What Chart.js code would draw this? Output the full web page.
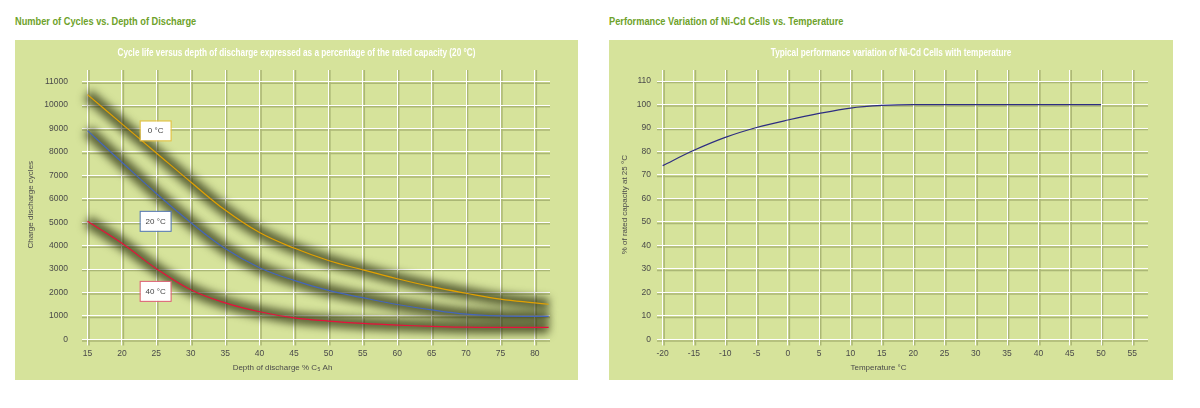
<!DOCTYPE html>
<html>
<head>
<meta charset="utf-8">
<script src="https://cdn.jsdelivr.net/npm/chart.js@4.4.0/dist/chart.umd.min.js"></script>
<style>
  body { margin: 0; width: 1200px; height: 408px; background: #fff; position: relative;
         font-family: "Liberation Sans", Arial, sans-serif; }
  .head { position: absolute; top: 15px; font-size: 11px; font-weight: bold; color: #6ea22a;
          white-space: nowrap; transform: scaleX(0.84); transform-origin: left top; }
  .panel { position: absolute; top: 40px; height: 340px; background: #d6e39b; }
  .ptitle { position: absolute; top: 7px; left: 0; right: 0; text-align: center; line-height: 12px;
            font-size: 10px; font-weight: bold; color: #fff; white-space: nowrap;
            transform: scaleX(0.82); transform-origin: center top; }
</style>
</head>
<body>
<div class="head" style="left:15px">Number of Cycles vs. Depth of Discharge</div>
<div class="head" style="left:609px">Performance Variation of Ni-Cd Cells vs. Temperature</div>
<div class="panel" style="left:15px;width:563px">
  <canvas id="cycles"></canvas>
  <div class="ptitle">Cycle life versus depth of discharge expressed as a percentage of the rated capacity (20 °C)</div>
</div>
<div class="panel" style="left:609px;width:564px">
  <canvas id="temp"></canvas>
  <div class="ptitle">Typical performance variation of Ni-Cd Cells with temperature</div>
</div>
<script>
// left chart data
var depth = [15, 20, 25, 30, 35, 40, 45, 50, 55, 60, 65, 70, 75, 80, 82];
var cycles0 = [10450, 9200, 7960, 6720, 5520, 4560, 3900, 3370, 2970, 2590, 2250, 1970, 1720, 1560, 1500];
var cycles20 = [8910, 7560, 6230, 4990, 3880, 3060, 2520, 2090, 1780, 1490, 1260, 1080, 1000, 980, 980];
var cycles40 = [5040, 4100, 3020, 2120, 1560, 1180, 920, 780, 680, 610, 560, 520, 510, 510, 510];
var curveNames = ['0 °C', '20 °C', '40 °C'];
var depthTicks = [15, 20, 25, 30, 35, 40, 45, 50, 55, 60, 65, 70, 75, 80];
var cycleTicks = [0, 1000, 2000, 3000, 4000, 5000, 6000, 7000, 8000, 9000, 10000, 11000];

// right chart data
var temps = [-20, -15, -10, -5, 0, 5, 10, 15, 20, 25, 30, 35, 40, 45, 50];
var capacity = [74, 80.5, 86, 90.2, 93.4, 96.2, 98.5, 99.6, 100, 100, 100, 100, 100, 100, 100];
var tempTicks = [-20, -15, -10, -5, 0, 5, 10, 15, 20, 25, 30, 35, 40, 45, 50, 55];
var capTicks = [0, 10, 20, 30, 40, 50, 60, 70, 80, 90, 100, 110];

Chart.defaults.font.family = '"Liberation Sans", Arial, sans-serif';
Chart.defaults.color = '#4a4a4a';
Chart.defaults.animation = false;

function pairs(xs, ys) {
  return xs.map(function (x, i) { return { x: x, y: ys[i] }; });
}
function useTicks(list) {
  return function (scale) {
    scale.ticks = list.map(function (v) { return { value: v }; });
  };
}

// blurred dark band under the curves
var blurShadow = {
  id: 'blurShadow',
  beforeDatasetDraw: function (chart, args) {
    if (args.meta._dataset.shadow) {
      chart.ctx.save();
      chart.ctx.filter = 'blur(4px)';
    }
  },
  afterDatasetDraw: function (chart, args) {
    if (args.meta._dataset.shadow) chart.ctx.restore();
  }
};

// grey line next to each white grid line (embossed look)
var gridEmboss = {
  id: 'gridEmboss',
  beforeDraw: function (chart) {
    var ctx = chart.ctx, a = chart.chartArea;
    var xs = chart.scales.x, ys = chart.scales.y;
    ctx.save();
    ctx.strokeStyle = 'rgba(120,128,70,0.45)';
    ctx.lineWidth = 1.5;
    ctx.beginPath();
    xs.ticks.forEach(function (t) {
      var p = xs.getPixelForValue(t.value) + 1.5;
      ctx.moveTo(p, a.top); ctx.lineTo(p, a.bottom + 6);
    });
    ys.ticks.forEach(function (t) {
      var p = ys.getPixelForValue(t.value) + 1.5;
      ctx.moveTo(a.left, p); ctx.lineTo(a.right, p);
    });
    ctx.stroke();
    ctx.restore();
  }
};

// boxed curve labels
var curveTags = {
  id: 'curveTags',
  afterDatasetsDraw: function (chart, args, opts) {
    var ctx = chart.ctx;
    opts.items.forEach(function (it) {
      var x = chart.scales.x.getPixelForValue(it.at[0]);
      var y = chart.scales.y.getPixelForValue(it.at[1]);
      ctx.save();
      ctx.fillStyle = '#fff';
      ctx.strokeStyle = it.color;
      ctx.lineWidth = 1;
      ctx.fillRect(x - 15, y - 9.5, 30, 19);
      ctx.strokeRect(x - 15.5, y - 10, 31, 20);
      ctx.fillStyle = '#444';
      ctx.font = '8px "Liberation Sans", Arial, sans-serif';
      ctx.textAlign = 'center';
      ctx.textBaseline = 'middle';
      ctx.fillText(it.text, x, y);
      ctx.restore();
    });
  }
};

function lineSet(data, color, order) {
  return { data: data, borderColor: color, borderWidth: 1.2, pointRadius: 0,
           tension: 0.4, fill: false, order: order };
}
function shadowSet(data) {
  return { data: data, borderColor: 'rgba(50,55,20,0.78)', borderWidth: 12, pointRadius: 0,
           tension: 0.4, fill: false, order: 2, shadow: true, clip: false };
}

var lineColors = ['#e3a100', '#4466bb', '#e8103c'];
var tickFont = { size: 8.5 };
var titleFont = { size: 8 };

new Chart(document.getElementById('cycles'), {
  type: 'line',
  data: {
    datasets: [
      lineSet(pairs(depth, cycles0), lineColors[0], 1),
      lineSet(pairs(depth, cycles20), lineColors[1], 1),
      lineSet(pairs(depth, cycles40), lineColors[2], 1),
      shadowSet(pairs(depth, cycles0)),
      shadowSet(pairs(depth, cycles20)),
      shadowSet(pairs(depth, cycles40))
    ]
  },
  options: {
    responsive: true,
    maintainAspectRatio: false,
    layout: { padding: { left: 0, right: 28, top: 30 } },
    plugins: {
      legend: { display: false },
      tooltip: { enabled: false },
      subtitle: { display: true, position: 'bottom', text: 'Depth of discharge % C₅ Ah',
                  color: '#4a4a4a', font: titleFont, padding: { top: 0, bottom: 7 } },
      curveTags: { items: [
        { text: curveNames[0], at: [24.9, 8900], color: '#e8c040' },
        { text: curveNames[1], at: [24.9, 5040], color: '#5577bb' },
        { text: curveNames[2], at: [24.9, 2050], color: '#e0607a' }
      ] }
    },
    scales: {
      x: {
        type: 'linear', min: 14.2, max: 82.2,
        afterBuildTicks: useTicks(depthTicks),
        afterFit: function (s) { s.height = 24; },
        ticks: { font: tickFont, padding: 3 },
        grid: { color: '#fff', lineWidth: 1, tickLength: 6 },
        border: { display: false }
      },
      y: {
        min: 0, max: 11500,
        afterBuildTicks: useTicks(cycleTicks),
        afterFit: function (s) { s.width = 67; },
        ticks: { font: tickFont, padding: 14, callback: function (v) { return String(v); } },
        grid: { color: '#fff', lineWidth: 1, drawTicks: false },
        border: { display: false },
        title: { display: true, text: 'Charge discharge cycles', font: titleFont, padding: { top: 11, bottom: 0 } }
      }
    }
  },
  plugins: [blurShadow, gridEmboss, curveTags]
});

new Chart(document.getElementById('temp'), {
  type: 'line',
  data: {
    datasets: [
      { data: pairs(temps, capacity), borderColor: '#2d2d82', borderWidth: 1.2, pointRadius: 0,
        cubicInterpolationMode: 'monotone', fill: false }
    ]
  },
  options: {
    responsive: true,
    maintainAspectRatio: false,
    layout: { padding: { left: 0, right: 25, top: 30 } },
    plugins: {
      legend: { display: false },
      tooltip: { enabled: false },
      subtitle: { display: true, position: 'bottom', text: 'Temperature °C',
                  color: '#4a4a4a', font: titleFont, padding: { top: 0, bottom: 7 } }
    },
    scales: {
      x: {
        type: 'linear', min: -20.9, max: 57.5,
        afterBuildTicks: useTicks(tempTicks),
        afterFit: function (s) { s.height = 24; },
        ticks: { font: tickFont, padding: 3 },
        grid: { color: '#fff', lineWidth: 1, tickLength: 6 },
        border: { display: false }
      },
      y: {
        min: 0, max: 114.7,
        afterBuildTicks: useTicks(capTicks),
        afterFit: function (s) { s.width = 48; },
        ticks: { font: tickFont, padding: 6 },
        grid: { color: '#fff', lineWidth: 1, drawTicks: false },
        border: { display: false },
        title: { display: true, text: '% of rated capacity at 25 °C', font: titleFont, padding: { top: 11, bottom: 0 } }
      }
    }
  },
  plugins: [gridEmboss]
});
</script>
</body>
</html>
